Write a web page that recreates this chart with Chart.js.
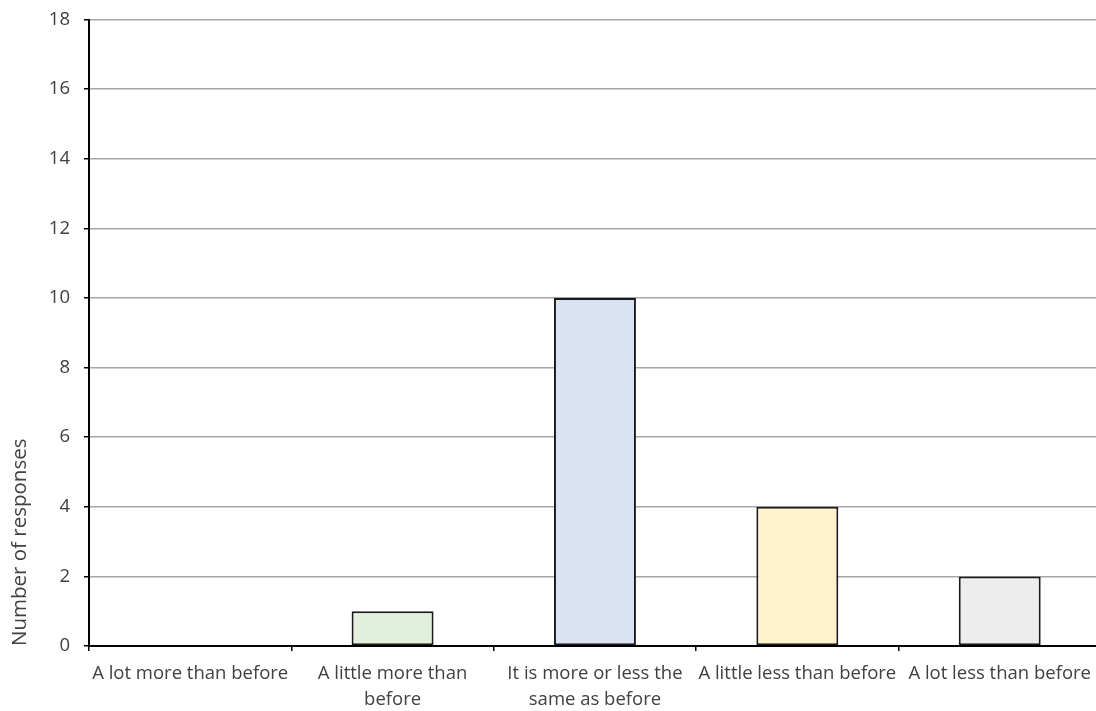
<!DOCTYPE html>
<html>
<head>
<meta charset="utf-8">
<script src="https://cdn.jsdelivr.net/npm/chart.js@4"></script>
<style>
  html, body { margin: 0; padding: 0; background: #fff; overflow: hidden; }
  /* the plot runs a few px past the right edge of the window */
  #wrap { width: 1101px; height: 711px; }
</style>
</head>
<body>
<div id="wrap"><canvas id="myChart"></canvas></div>
<script>
'use strict';

// answers to "compared with before, how much ...?"
const categories = [
  'A lot more than before',
  ['A little more than', 'before'],
  ['It is more or less the', 'same as before'],
  'A little less than before',
  'A lot less than before'
];
const responses = [0, 1, 10, 4, 2];
const barColors = ['#FBE5D6', '#E2EFDA', '#DAE3F3', '#FFF2CC', '#EDEDED'];
const yTicks = [0, 2, 4, 6, 8, 10, 12, 14, 16, 18];

const textColor = '#404040';
const fontFamily = '"Open Sans", "Noto Sans", sans-serif';

const progressChart = document.getElementById('myChart');

function drawChart() {
  return new Chart(progressChart, {
    type: 'bar',
    data: {
      labels: categories,
      datasets: [{
        label: 'Number of responses',
        data: responses,
        backgroundColor: barColors,
        borderColor: '#1a1a1a',
        borderWidth: 2,
        borderSkipped: false,
        barPercentage: 0.405,
        categoryPercentage: 1
      }]
    },
    options: {
      responsive: true,
      maintainAspectRatio: false,
      animation: false,
      layout: { padding: { top: 19.5, right: 0, bottom: 0, left: 0 } },
      plugins: {
        legend: { display: false },
        tooltip: { enabled: false }
      },
      scales: {
        x: {
          grid: {
            display: true,
            offset: true,
            drawOnChartArea: false,
            color: '#000',
            tickColor: '#000',
            tickLength: 5,
            lineWidth: 1.5
          },
          border: { color: '#000', width: 2 },
          ticks: {
            color: textColor,
            font: { family: fontFamily, size: 18.5, lineHeight: 1.4 },
            padding: 10,
            maxRotation: 0,
            minRotation: 0,
            autoSkip: false
          },
          afterFit: scale => { scale.height = 65; }
        },
        y: {
          min: 0,
          max: 18,
          afterBuildTicks: scale => {
            scale.ticks = yTicks.map(v => ({ value: v }));
          },
          grid: {
            color: '#A6A6A6',
            lineWidth: 1.5,
            tickColor: '#000',
            tickLength: 5
          },
          border: { color: '#000', width: 2 },
          ticks: {
            color: textColor,
            font: { family: fontFamily, size: 18.5 },
            padding: 14
          },
          title: {
            display: true,
            text: 'Number of responses',
            align: 'start',
            color: textColor,
            font: { family: fontFamily, size: 20.5 },
            padding: { top: 8, bottom: 0 }
          },
          afterFit: scale => {
            scale.width = 89;
            // let the layout padding alone decide where the plot starts
            scale.paddingTop = 0;
          }
        }
      }
    }
  });
}

drawChart();
</script>
</body>
</html>
